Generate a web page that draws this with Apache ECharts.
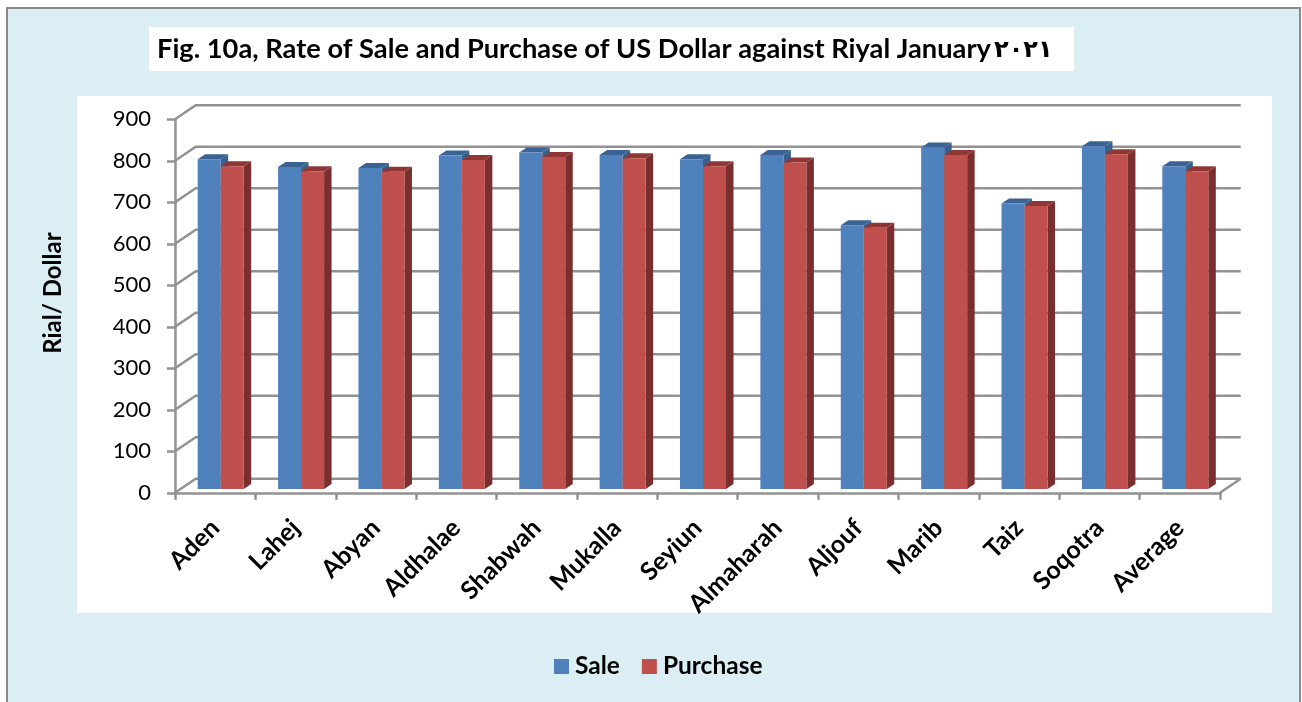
<!DOCTYPE html>
<html>
<head>
<meta charset="utf-8">
<style>html,body{margin:0;padding:0;background:#fff}#c{width:1302px;height:702px}</style>
<script src="https://cdn.jsdelivr.net/npm/echarts@6/dist/echarts.min.js"></script>
</head>
<body>
<div id="c"></div>
<script>
const categories = ['Aden','Lahej','Abyan','Aldhalae','Shabwah','Mukalla','Seyiun','Almaharah','Aljouf','Marib','Taiz','Soqotra','Average'];
const sale     = [795,776,774,804,811,805,795,805,636,823,688,826,778];
const purchase = [778,766,765,793,800,797,778,787,630,805,682,807,766];
const yTicks   = [0,100,200,300,400,500,600,700,800,900];
const titleText = 'Fig. 10a, Rate of Sale and Purchase of US Dollar against Riyal January';
const titleYear = '٢٠٢١';
const yName = 'Rial/ Dollar';

const FONT = 'Lato, "Open Sans", sans-serif';
const DEPTH_X = 20.7, DEPTH_Y = -14;          // wall depth
const BAR_X = 5.5, BAR_Y = -3.7;              // bar's position inside the depth
const BAR_W = 23, SIDE_X = 7.5, SIDE_Y = -5;  // bar width and its own depth
const AXIS = '#929292';
const AXIS_W = 2.5;

function barRenderer(dir, front, top, side) {
  return function (params, api) {
    const i = api.value(0);
    const t = api.coord([i, api.value(1)]);
    const b = api.coord([i, 0]);
    const seam = t[0] + BAR_X;
    const x0 = dir < 0 ? seam - BAR_W : seam;
    const x1 = x0 + BAR_W;
    const y0 = t[1] + BAR_Y, y1 = b[1] + BAR_Y;
    const poly = (pts, fill) => ({ type: 'polygon', shape: { points: pts }, style: { fill: fill } });
    return {
      type: 'group',
      children: [
        poly([[x1, y0], [x1 + SIDE_X, y0 + SIDE_Y], [x1 + SIDE_X, y1 + SIDE_Y], [x1, y1]], side),
        poly([[x0, y0], [x0 + SIDE_X, y0 + SIDE_Y], [x1 + SIDE_X, y0 + SIDE_Y], [x1, y0]], top),
        poly([[x0, y0], [x1, y0], [x1, y1], [x0, y1]], front)
      ]
    };
  };
}

function wallRenderer(params, api) {
  const cs = params.coordSys;
  const p = api.coord([0, api.value(1)]);
  const y = p[1], xl = cs.x, xr = cs.x + cs.width;
  const st = { stroke: AXIS, lineWidth: AXIS_W, fill: 'none' };
  const children = [{
    type: 'polyline',
    shape: { points: [[xl, y], [xl + DEPTH_X, y + DEPTH_Y], [xr + DEPTH_X, y + DEPTH_Y]] },
    style: st
  }];
  if (api.value(1) === 0) {
    children.push({ type: 'line', shape: { x1: xr, y1: y, x2: xr + DEPTH_X, y2: y + DEPTH_Y }, style: st });
  }
  return { type: 'group', children: children };
}

const chart = echarts.init(document.getElementById('c'), null, { renderer: 'canvas' });
chart.setOption({
  animation: false,
  backgroundColor: '#ffffff',
  graphic: [
    { type: 'rect', z: -10, shape: { x: 7, y: 8, width: 1293, height: 700 }, style: { fill: '#DBEEF4', stroke: '#8A8A8A', lineWidth: 2 } },
    { type: 'rect', z: -9, shape: { x: 149, y: 27, width: 925, height: 44 }, style: { fill: '#ffffff' } },
    { type: 'rect', z: -9, shape: { x: 77, y: 96, width: 1195, height: 517 }, style: { fill: '#ffffff' } }
  ],
  title: [
    { text: titleText, left: 157, top: 36, padding: 0, textStyle: { fontFamily: FONT, fontWeight: 'bold', fontSize: 27.25, color: '#000' } },
    { text: titleYear, left: 994, top: 39, padding: 0, textStyle: { fontFamily: '"DejaVu Sans"', fontWeight: 'bold', fontSize: 24, color: '#000' } }
  ],
  legend: {
    data: ['Sale', 'Purchase'],
    left: 554, top: 654,
    icon: 'rect',
    itemWidth: 15, itemHeight: 15, itemGap: 22,
    padding: 0,
    textStyle: { fontFamily: FONT, fontWeight: 'bold', fontSize: 24.5, color: '#000', padding: [0, 0, 0, 1] }
  },
  grid: { left: 175, top: 119.3, width: 1045, height: 373.5, containLabel: false },
  xAxis: {
    type: 'category',
    data: categories,
    boundaryGap: true,
    axisLine: { show: true, lineStyle: { color: AXIS, width: AXIS_W } },
    axisTick: { show: true, alignWithLabel: false, length: 7, lineStyle: { color: AXIS, width: AXIS_W } },
    axisLabel: { interval: 0, rotate: 45, margin: 31, fontFamily: FONT, fontWeight: 'bold', fontSize: 25, color: '#000' }
  },
  yAxis: {
    type: 'value',
    min: 0, max: 900, interval: 100,
    name: yName,
    nameLocation: 'middle',
    nameRotate: 90,
    nameGap: 110,
    nameTextStyle: { fontFamily: FONT, fontWeight: 'bold', fontSize: 24, color: '#000', padding: [0, 0, 0, 26] },
    axisLine: { show: true, lineStyle: { color: AXIS, width: AXIS_W } },
    axisTick: { show: true, length: 8, lineStyle: { color: AXIS, width: AXIS_W } },
    axisLabel: { margin: 24, fontFamily: FONT, fontSize: 22, color: '#000', padding: [2, 0, 0, 0] },
    splitLine: { show: false }
  },
  series: [
    {
      name: 'wall', type: 'custom', silent: true, z: 1, clip: false,
      data: yTicks.map(v => [0, v]), encode: { x: 0, y: 1 },
      renderItem: wallRenderer
    },
    {
      name: 'Sale', type: 'custom', z: 3, clip: false,
      itemStyle: { color: '#4F81BD' },
      data: sale.map((v, i) => [i, v]), encode: { x: 0, y: 1 },
      renderItem: barRenderer(-1, '#4F81BD', '#3A6394', '#37608F')
    },
    {
      name: 'Purchase', type: 'custom', z: 4, clip: false,
      itemStyle: { color: '#C0504D' },
      data: purchase.map((v, i) => [i, v]), encode: { x: 0, y: 1 },
      renderItem: barRenderer(1, '#C0504D', '#8F3735', '#7A2F2E')
    }
  ]
});
</script>
</body>
</html>
